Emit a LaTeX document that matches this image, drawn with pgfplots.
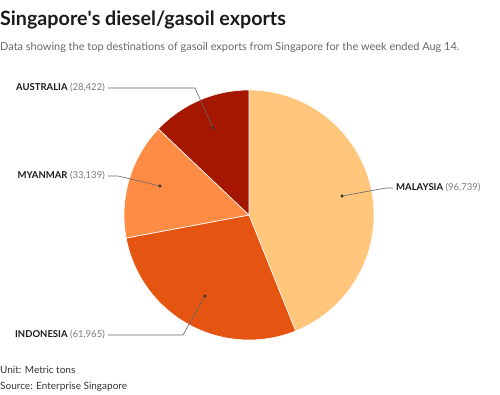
\documentclass[border=0pt]{standalone}
\usepackage{fontspec}
\setmainfont{Lato}
\usepackage{pgfplots}
\pgfplotsset{compat=1.18}
\definecolor{cMal}{HTML}{FFC67C}
\definecolor{cIndo}{HTML}{E55511}
\definecolor{cMyan}{HTML}{FF8C45}
\definecolor{cAus}{HTML}{A51700}
\definecolor{lead}{HTML}{666666}
\definecolor{numc}{HTML}{7A7A7A}
\definecolor{titc}{HTML}{1A1A1A}
\definecolor{subc}{HTML}{666666}
% data (metric tons)
\def\vMal{96739}\def\vIndo{61965}\def\vMyan{33139}\def\vAus{28422}
\pgfkeys{/pgf/fpu=true,/pgf/fpu/output format=fixed}
\pgfmathsetmacro{\tot}{\vMal+\vIndo+\vMyan+\vAus}
\pgfmathsetmacro{\aA}{90-360*\vMal/\tot}
\pgfmathsetmacro{\aB}{\aA-360*\vIndo/\tot}
\pgfmathsetmacro{\aC}{\aB-360*\vMyan/\tot}
\pgfmathsetmacro{\aD}{\aC-360*\vAus/\tot}
\pgfkeys{/pgf/fpu=false}
\begin{document}
\begin{tikzpicture}
\useasboundingbox (0,0) rectangle (500pt,394pt);
\begin{axis}[x=1pt,y=1pt,xmin=0,xmax=500,ymin=0,ymax=394,hide axis,clip=false,
  at={(0,0)},anchor=origin]
\fill[cMal,draw=white,line width=0.6pt] (axis cs:249,179) -- ++(90:125pt) arc[start angle=90,end angle=\aA,radius=125pt] -- cycle;
\fill[cIndo,draw=white,line width=0.6pt] (axis cs:249,179) -- ++(\aA:125pt) arc[start angle=\aA,end angle=\aB,radius=125pt] -- cycle;
\fill[cMyan,draw=white,line width=0.6pt] (axis cs:249,179) -- ++(\aB:125pt) arc[start angle=\aB,end angle=\aC,radius=125pt] -- cycle;
\fill[cAus,draw=white,line width=0.6pt] (axis cs:249,179) -- ++(\aC:125pt) arc[start angle=\aC,end angle=\aD,radius=125pt] -- cycle;
% leader lines
\addplot[lead,line width=0.6pt] coordinates {(108,306)(195,306)(213,266)};
\addplot[lead,line width=0.6pt] coordinates {(108,218)(118,218)(160,208)};
\addplot[lead,line width=0.6pt] coordinates {(108,59)(183,59)(205,98)};
\addplot[lead,line width=0.6pt] coordinates {(342,198)(386,206)(393,206)};
\addplot[only marks,mark=*,mark size=1.3pt,black!80] coordinates {(213,266)(160,208)(205,98)(342,198)};
% labels
\node[anchor=east,inner sep=0pt,font=\fontsize{9.5}{11}\selectfont] at (axis cs:105,306) {\textbf{\textcolor{titc}{AUSTRALIA}} \textcolor{numc}{(28,422)}};
\node[anchor=east,inner sep=0pt,font=\fontsize{9.5}{11}\selectfont] at (axis cs:105,218) {\textbf{\textcolor{titc}{MYANMAR}} \textcolor{numc}{(33,139)}};
\node[anchor=east,inner sep=0pt,font=\fontsize{9.5}{11}\selectfont] at (axis cs:105,59) {\textbf{\textcolor{titc}{INDONESIA}} \textcolor{numc}{(61,965)}};
\node[anchor=west,inner sep=0pt,font=\fontsize{9.5}{11}\selectfont] at (axis cs:396,206) {\textbf{\textcolor{titc}{MALAYSIA}} \textcolor{numc}{(96,739)}};
% titles
\node[anchor=base west,inner sep=0pt,font=\fontsize{19.7}{22}\bfseries\selectfont,text=titc] at (axis cs:0,368) {Singapore\textquotesingle s diesel/gasoil exports};
\node[anchor=base west,inner sep=0pt,font=\fontsize{10.95}{14}\selectfont,text=subc] at (axis cs:0,343) {Data showing the top destinations of gasoil exports from Singapore for the week ended Aug 14.};
\node[anchor=base west,inner sep=0pt,font=\fontsize{10}{11}\selectfont,text=black!80] at (axis cs:0,21) {Unit: Metric tons};
\node[anchor=base west,inner sep=0pt,font=\fontsize{10}{11}\selectfont,text=black!80] at (axis cs:0,5) {Source: Enterprise Singapore};
\end{axis}
\end{tikzpicture}
\end{document}
